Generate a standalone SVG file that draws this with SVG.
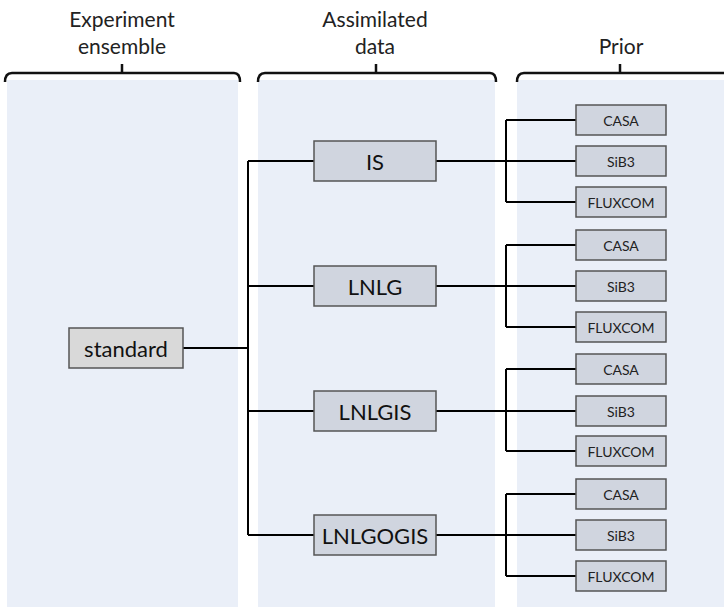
<svg xmlns="http://www.w3.org/2000/svg" width="724" height="607" viewBox="0 0 724 607">
<style>
.panel{fill:#eaeff8}
.br{fill:none;stroke:#111;stroke-width:2.5;stroke-linejoin:round}
.hd{font-family:Lato,"Open Sans",sans-serif;font-size:21px;fill:#222;text-anchor:middle}
.bx{fill:#d0d5df;stroke:#555;stroke-width:1.5}
.bs{fill:#d9d9d9;stroke:#555;stroke-width:1.5}
.t1{font-family:Lato,"Open Sans",sans-serif;font-size:22px;fill:#111;text-anchor:middle;dominant-baseline:central}
.t2{font-family:Lato,"Open Sans",sans-serif;font-size:14px;fill:#222;text-anchor:middle;dominant-baseline:central}
.ln{fill:none;stroke:#000;stroke-width:2}
</style>
<rect width="724" height="607" fill="#fff"/>
<g id="panels">
<rect class="panel" x="7" y="80" width="231" height="527"/>
<rect class="panel" x="258" y="80" width="237" height="527"/>
<rect class="panel" x="517" y="80" width="207" height="527"/>
</g>
<g id="headers">
<text class="hd" x="122" y="27">Experiment</text>
<text class="hd" x="122" y="54">ensemble</text>
<path class="br" d="M5,82 Q5,73 12,73 L234,73 Q240,73 240,82 M122,73 V64"/>
<text class="hd" x="375" y="27">Assimilated</text>
<text class="hd" x="375" y="54">data</text>
<path class="br" d="M258,82 Q258,73 265,73 L490,73 Q496,73 496,82 M376,73 V64"/>
<text class="hd" x="621" y="54">Prior</text>
<path class="br" d="M517,82 Q517,73 524,73 L724,73 M620,73 V64"/>
</g>
<g id="connectors">
<path class="ln" d="M183,348 H248 M248,161 V535 M248,161 H314 M248,286 H314 M248,411 H314 M248,535 H314"/>
<path class="ln" d="M436,161 H576 M506,120 V202 M506,120 H576 M506,202 H576"/>
<path class="ln" d="M436,286 H576 M506,245 V327 M506,245 H576 M506,327 H576"/>
<path class="ln" d="M436,411 H576 M506,369 V451 M506,369 H576 M506,451 H576"/>
<path class="ln" d="M436,535 H576 M506,494 V576 M506,494 H576 M506,576 H576"/>
</g>
<g id="standard"><rect class="bs" x="69" y="328" width="114" height="40"/><text class="t1" x="126" y="348">standard</text></g>
<g id="IS"><rect class="bx" x="314" y="141" width="122" height="40"/><text class="t1" x="375" y="161">IS</text></g>
<g id="LNLG"><rect class="bx" x="314" y="266" width="122" height="40"/><text class="t1" x="375" y="286">LNLG</text></g>
<g id="LNLGIS"><rect class="bx" x="314" y="391" width="122" height="40"/><text class="t1" x="375" y="411">LNLGIS</text></g>
<g id="LNLGOGIS"><rect class="bx" x="314" y="515" width="122" height="40"/><text class="t1" x="375" y="535">LNLGOGIS</text></g>
<g id="IS_CASA"><rect class="bx" x="576" y="105" width="90" height="30"/><text class="t2" x="621" y="120">CASA</text></g>
<g id="IS_SiB3"><rect class="bx" x="576" y="146" width="90" height="30"/><text class="t2" x="621" y="161">SiB3</text></g>
<g id="IS_FLUXCOM"><rect class="bx" x="576" y="187" width="90" height="30"/><text class="t2" x="621" y="202">FLUXCOM</text></g>
<g id="LNLG_CASA"><rect class="bx" x="576" y="230" width="90" height="30"/><text class="t2" x="621" y="245">CASA</text></g>
<g id="LNLG_SiB3"><rect class="bx" x="576" y="271" width="90" height="30"/><text class="t2" x="621" y="286">SiB3</text></g>
<g id="LNLG_FLUXCOM"><rect class="bx" x="576" y="312" width="90" height="30"/><text class="t2" x="621" y="327">FLUXCOM</text></g>
<g id="LNLGIS_CASA"><rect class="bx" x="576" y="354" width="90" height="30"/><text class="t2" x="621" y="369">CASA</text></g>
<g id="LNLGIS_SiB3"><rect class="bx" x="576" y="396" width="90" height="30"/><text class="t2" x="621" y="411">SiB3</text></g>
<g id="LNLGIS_FLUXCOM"><rect class="bx" x="576" y="436" width="90" height="30"/><text class="t2" x="621" y="451">FLUXCOM</text></g>
<g id="LNLGOGIS_CASA"><rect class="bx" x="576" y="479" width="90" height="30"/><text class="t2" x="621" y="494">CASA</text></g>
<g id="LNLGOGIS_SiB3"><rect class="bx" x="576" y="520" width="90" height="30"/><text class="t2" x="621" y="535">SiB3</text></g>
<g id="LNLGOGIS_FLUXCOM"><rect class="bx" x="576" y="561" width="90" height="30"/><text class="t2" x="621" y="576">FLUXCOM</text></g>
</svg>
